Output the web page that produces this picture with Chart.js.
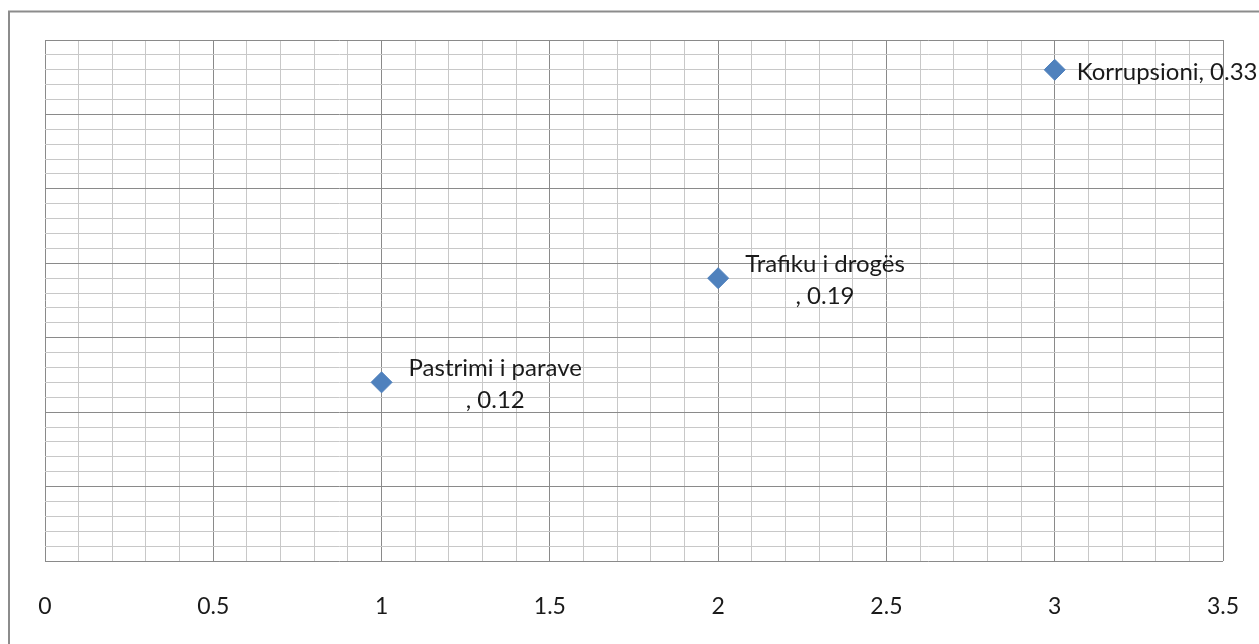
<!DOCTYPE html>
<html>
<head>
<meta charset="utf-8">
<script src="https://cdn.jsdelivr.net/npm/chart.js@4/dist/chart.umd.min.js"></script>
<style>
  body { margin: 0; background: #fff; }
  canvas { display: block; }
</style>
</head>
<body>
<canvas id="chart" width="1259" height="644"></canvas>
<script>
// data
const categories = ['Pastrimi i parave', 'Trafiku i drogës', 'Korrupsioni'];
const xValues = [1, 2, 3];
const yValues = [0.12, 0.19, 0.33];
// how excel wrapped the labels
const labelText = ['Pastrimi i parave\n, 0.12', 'Trafiku i drogës\n, 0.19', 'Korrupsioni, 0.33'];

const FONT = 'Lato';
const MAJOR = '#8a8a8a';
const MINOR = '#c8c8c8';

function isMultiple(v, step) {
  const r = v / step;
  return Math.abs(r - Math.round(r)) < 1e-6;
}

// grey frame around the whole chart
const framePlugin = {
  id: 'frame',
  beforeDraw(chart) {
    const ctx = chart.ctx;
    ctx.save();
    ctx.fillStyle = '#fff';
    ctx.fillRect(0, 0, chart.width, chart.height);
    ctx.strokeStyle = '#8c8c8c';
    ctx.lineWidth = 2;
    ctx.strokeRect(9, 11.5, 1400, 1000);
    ctx.restore();
  }
};

// data labels to the right of each point
const labelPlugin = {
  id: 'pointLabels',
  afterDatasetsDraw(chart) {
    const ctx = chart.ctx;
    const meta = chart.getDatasetMeta(0);
    ctx.save();
    ctx.font = '24px ' + FONT;
    ctx.fillStyle = '#1a1a1a';
    ctx.textBaseline = 'middle';
    ctx.textAlign = 'center';
    meta.data.forEach((pt, i) => {
      const lines = labelText[i].split('\n');
      const w = Math.max(...lines.map(l => ctx.measureText(l).width));
      const left = pt.x + (lines.length > 1 ? 27 : 22);
      const lh = 32;
      const top = pt.y + 2 - (lines.length - 1) * lh / 2;
      lines.forEach((l, j) => {
        ctx.fillText(l, left + w / 2, top + j * lh);
      });
    });
    ctx.restore();
  }
};

new Chart(document.getElementById('chart'), {
  type: 'scatter',
  data: {
    datasets: [{
      label: 'Seria',
      data: xValues.map((x, i) => ({ x: x, y: yValues[i], name: categories[i] })),
      backgroundColor: '#4f81bd',
      borderColor: '#4f81bd',
      pointStyle: 'rectRot',
      pointRadius: 10.5,
      pointHoverRadius: 10.5
    }]
  },
  options: {
    responsive: false,
    animation: false,
    layout: { padding: { top: 40, right: 36, left: 0, bottom: 0 } },
    plugins: {
      legend: { display: false },
      tooltip: { enabled: false }
    },
    scales: {
      x: {
        type: 'linear',
        min: 0,
        max: 3.5,
        afterFit(scale) {
          scale.height = 83;
          scale.paddingLeft = 0;
          scale.paddingRight = 0;
        },
        border: { display: false },
        grid: {
          drawTicks: false,
          color: ctx => isMultiple(ctx.tick.value, 0.5) ? MAJOR : MINOR
        },
        ticks: {
          stepSize: 0.1,
          maxTicksLimit: 100,
          autoSkip: false,
          maxRotation: 0,
          padding: 32,
          color: '#1a1a1a',
          font: { family: FONT, size: 23 },
          callback: v => isMultiple(v, 0.5) ? String(Math.round(v * 10) / 10) : ''
        }
      },
      y: {
        min: 0,
        max: 0.35,
        afterFit(scale) { scale.width = 45; },
        border: { display: false },
        grid: {
          drawTicks: false,
          color: ctx => isMultiple(ctx.tick.value, 0.05) ? MAJOR : MINOR
        },
        ticks: {
          display: false,
          stepSize: 0.01,
          maxTicksLimit: 100
        }
      }
    }
  },
  plugins: [framePlugin, labelPlugin]
});
</script>
</body>
</html>
